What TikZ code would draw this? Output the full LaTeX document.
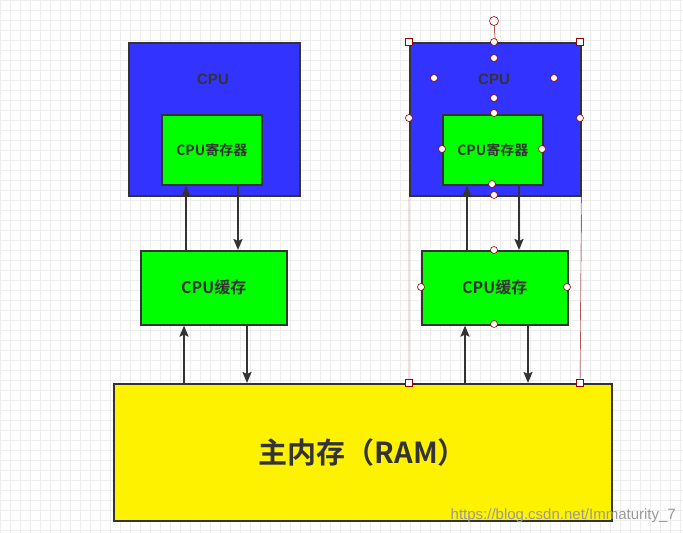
\documentclass[tikz,border=0pt]{standalone}
\usepackage{fontspec}
\setmainfont{Liberation Sans}
\newfontfamily\cjk{Noto Sans CJK SC}[BoldFont={Noto Sans CJK SC Bold}]
\usetikzlibrary{arrows.meta}
\definecolor{cpublue}{HTML}{3333FF}
\definecolor{txt}{HTML}{333333}
\begin{document}
\begin{tikzpicture}[x=1pt,y=-1pt,
  box/.style={draw=txt,line width=1.6pt,anchor=north west,inner sep=0pt,text=txt},
  arr/.style={-{Stealth[length=11pt,width=9pt,inset=2pt]},line width=2pt,draw=txt},
  hc/.style={circle,draw=red!60!black,fill=white,inner sep=0pt,minimum size=7pt,line width=0.6pt},
  hs/.style={rectangle,draw=red!60!black,fill=white,inner sep=0pt,minimum size=7pt,line width=0.6pt}]
\useasboundingbox (0,0) rectangle (683,533);
\fill[white] (0,0) rectangle (683,533);
\foreach \i in {0,10,...,680} \draw[black!7,line width=0.5pt] (\i,0) -- (\i,533);
\foreach \i in {0,10,...,530} \draw[black!7,line width=0.5pt] (0,\i) -- (683,\i);
% left column
\node[box,fill=cpublue,minimum width=171pt,minimum height=153pt] (cpu1) at (128,42) {};
\node[text=txt,font=\bfseries\fontsize{15}{18}\selectfont] (t1) at (213,79) {CPU};
\node[box,fill=green,minimum width=100pt,minimum height=70pt,font=\cjk\bfseries\fontsize{14}{17}\selectfont] (reg1) at (161,114) {CPU寄存器};
\node[box,fill=green,minimum width=146pt,minimum height=74pt,font=\cjk\bfseries\fontsize{16}{19}\selectfont] (c1) at (140,250) {CPU缓存};
% right column
\node[box,fill=cpublue,minimum width=171pt,minimum height=153pt] (cpu2) at (409,42) {};
\node[text=txt,font=\bfseries\fontsize{15}{18}\selectfont] (t2) at (494,79) {CPU};
\node[box,fill=green,minimum width=100pt,minimum height=70pt,font=\cjk\bfseries\fontsize{14}{17}\selectfont] (reg2) at (442,114) {CPU寄存器};
\node[box,fill=green,minimum width=146pt,minimum height=74pt,font=\cjk\bfseries\fontsize{16}{19}\selectfont] (c2) at (421,250) {CPU缓存};
% RAM
\node[box,fill=yellow,minimum width=498pt,minimum height=137pt,font=\cjk\bfseries\fontsize{29}{34}\selectfont] (ram) at (113,383) {主内存（RAM）};
% arrows
\draw[arr] (c1.north -| 186,0) -- (reg1.south -| 186,0);
\draw[arr] (reg1.south -| 238,0) -- (c1.north -| 238,0);
\draw[arr] (ram.north -| 184,0) -- (c1.south -| 184,0);
\draw[arr] (c1.south -| 247,0) -- (ram.north -| 247,0);
\draw[arr] (c2.north -| 467,0) -- (reg2.south -| 467,0);
\draw[arr] (reg2.south -| 519,0) -- (c2.north -| 519,0);
\draw[arr] (ram.north -| 465,0) -- (c2.south -| 465,0);
\draw[arr] (c2.south -| 528,0) -- (ram.north -| 528,0);
% selection handles
\draw[red!60!black,line width=0.4pt] (cpu2.south west) -- (409,383) (cpu2.south east) -- (580,383);
\draw[red!60!black,line width=0.5pt] (494,21) -- (cpu2.north);
\node[hc,minimum size=9pt] (rot) at (494,21) {};
\foreach \p [count=\i] in {(409,42),(580,42),(409,383),(580,383)} \node[hs] (s\i) at \p {};
\foreach \p [count=\i] in {(494,42),(494,58),(434,78),(554,78),(494,98),(494,113),(409,118),(580,118),(442,149),(542,149),(492,184),(494,195),(494,250),(421,287),(567,287),(494,324)} \node[hc] (h\i) at \p {};
\node[anchor=south east,text=black!40,font=\fontsize{15}{18}\selectfont,inner sep=2pt] (wm) at (678,525) {https://blog.csdn.net/Immaturity\_7};
\end{tikzpicture}
\end{document}
